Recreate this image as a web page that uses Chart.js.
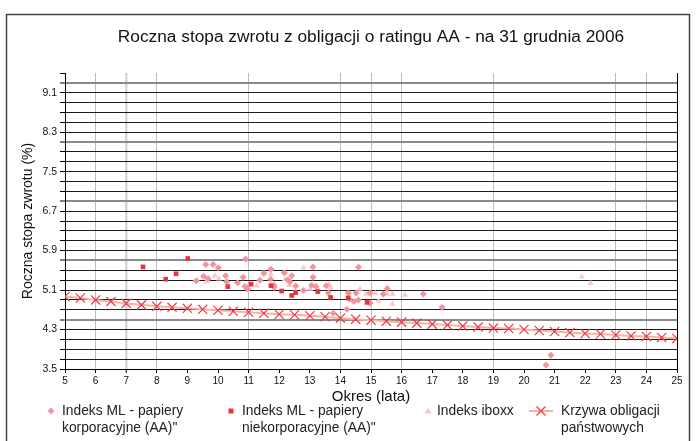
<!DOCTYPE html>
<html>
<head>
<meta charset="utf-8">
<script src="https://cdn.jsdelivr.net/npm/chart.js@4.4.1/dist/chart.umd.min.js"></script>
<style>
  html, body { margin: 0; padding: 0; background: #fff; }
  #wrap { width: 696px; height: 441px; position: relative; }
</style>
</head>
<body>
<div id="wrap"><canvas id="chart"></canvas></div>
<script>
/*********************************
 DATA
*********************************/
const TITLE = "Roczna stopa zwrotu z obligacji o ratingu AA - na 31 grudnia 2006";
const X_TITLE = "Okres (lata)";
const Y_TITLE = "Roczna stopa zwrotu (%)";

const SERIES_NAMES = [
  ["Indeks ML - papiery", "korporacyjne (AA)\""],
  ["Indeks ML - papiery", "niekorporacyjne (AA)\""],
  ["Indeks iboxx"],
  ["Krzywa obligacji", "państwowych"]
];

const Y_TICK_LABELS = ["3.5", "4.3", "5.1", "5.9", "6.7", "7.5", "8.3", "9.1"];

// Indeks ML - papiery korporacyjne (AA)
const CORP_TENOR = [9.29, 9.53, 9.60, 9.68, 9.84, 10.01, 10.25, 10.28, 10.64, 10.82, 10.90, 10.88, 10.97,
  11.37, 11.50, 11.73, 11.72, 11.83, 11.83, 12.17, 12.28, 12.41, 12.35, 12.54, 12.79, 13.10, 13.10, 13.06,
  13.20, 13.54, 13.61, 13.77, 14.21, 14.26, 14.29, 14.44, 14.51, 14.59, 14.59, 14.97, 14.97, 15.40, 15.53,
  16.71, 17.32, 20.72, 20.88];
const CORP_YIELD = [5.29, 5.38, 5.62, 5.33, 5.62, 5.55, 5.39, 5.27, 5.25, 5.36, 5.73, 5.17, 5.12,
  5.30, 5.44, 5.52, 5.32, 5.20, 5.15, 5.45, 5.31, 5.39, 5.27, 5.18, 5.09, 5.57, 5.36, 5.20,
  5.17, 5.19, 5.04, 4.63, 4.71, 5.04, 4.92, 4.87, 5.04, 4.90, 5.56, 5.04, 4.84, 5.02, 5.13,
  5.02, 4.75, 3.58, 3.78];

// Indeks ML - papiery niekorporacyjne (AA)
const NONCORP_TENOR = [7.55, 8.29, 8.63, 9.01, 10.32, 11.08, 11.73, 12.08, 12.41, 12.54, 13.26, 13.68, 14.25, 14.87];
const NONCORP_YIELD = [5.57, 5.32, 5.43, 5.74, 5.17, 5.22, 5.19, 5.08, 4.99, 5.05, 5.07, 4.95, 4.94, 4.85];

// Indeks iboxx
const IBOXX_TENOR = [9.62, 9.90, 10.03, 10.99, 11.26, 11.73, 12.19, 12.33, 12.52, 12.79, 13.01, 13.28, 13.51,
  13.63, 13.69, 14.64, 14.84, 15.15, 15.24, 15.53, 15.70, 15.70, 16.11, 21.89, 22.18];
const IBOXX_YIELD = [5.27, 5.39, 5.33, 5.20, 5.19, 5.42, 5.32, 5.20, 5.07, 5.55, 5.12, 5.08, 5.19,
  5.22, 5.15, 5.12, 5.02, 5.03, 4.88, 5.02, 5.02, 4.82, 5.00, 5.37, 5.24];

// Krzywa obligacji państwowych
const GOV_TENOR = [5, 5.5, 6, 6.5, 7, 7.5, 8, 8.5, 9, 9.5, 10, 10.5, 11, 11.5, 12, 12.5, 13, 13.5, 14, 14.5,
  15, 15.5, 16, 16.5, 17, 17.5, 18, 18.5, 19, 19.5, 20, 20.5, 21, 21.5, 22, 22.5, 23, 23.5, 24, 24.5, 25];
const GOV_YIELD = [4.97, 4.94, 4.90, 4.87, 4.83, 4.80, 4.77, 4.75, 4.73, 4.71, 4.69, 4.67, 4.65, 4.63, 4.61,
  4.60, 4.58, 4.56, 4.53, 4.51, 4.49, 4.47, 4.45, 4.43, 4.41, 4.39, 4.37, 4.35, 4.33, 4.32, 4.30, 4.28,
  4.26, 4.24, 4.22, 4.21, 4.19, 4.17, 4.16, 4.14, 4.12];

/*********************************
 UTILS
*********************************/
const FONT = '"Liberation Sans", Arial, Helvetica, sans-serif';

function points(xs, ys) {
  return xs.map((x, i) => ({ x: x, y: ys[i] }));
}

const MAJOR_Y_LINES = [4.5, 5.7, 6.9, 8.1, 9.3];
const X_GRID_LINES = [6, 7, 8, 11, 14, 15, 16, 19, 23, 24];

function near(v, list) {
  return list.some(a => Math.abs(a - v) < 1e-6);
}

/*********************************
 PLUGINS
*********************************/
const framePlugin = {
  id: "frame",
  beforeDraw(chart) {
    const ctx = chart.ctx;
    ctx.save();
    ctx.fillStyle = "#fff";
    ctx.fillRect(0, 0, chart.width, chart.height);
    ctx.strokeStyle = "#444";
    ctx.lineWidth = 1.5;
    ctx.strokeRect(6.5, 14.5, 683, 440);
    // title, centred over the plot
    ctx.fillStyle = "#111";
    ctx.font = "17.3px " + FONT;
    ctx.textAlign = "center";
    ctx.textBaseline = "middle";
    ctx.fillText(TITLE, (chart.chartArea.left + chart.chartArea.right) / 2, 37);
    ctx.restore();
  }
};

function drawMarker(ctx, kind, x, y) {
  ctx.beginPath();
  if (kind === "diamond") {
    ctx.fillStyle = "#f3939c";
    ctx.moveTo(x, y - 3.5); ctx.lineTo(x + 3.5, y); ctx.lineTo(x, y + 3.5); ctx.lineTo(x - 3.5, y);
    ctx.closePath(); ctx.fill();
  } else if (kind === "square") {
    ctx.fillStyle = "#e8333f";
    ctx.fillRect(x - 2.5, y - 2.5, 5, 5);
  } else if (kind === "triangle") {
    ctx.fillStyle = "#f9c7cc";
    ctx.moveTo(x, y - 3.5); ctx.lineTo(x + 3.5, y + 2.5); ctx.lineTo(x - 3.5, y + 2.5);
    ctx.closePath(); ctx.fill();
  } else {
    ctx.strokeStyle = "#f4b3a5";
    ctx.lineWidth = 2;
    ctx.moveTo(x - 12, y); ctx.lineTo(x + 12, y); ctx.stroke();
    ctx.beginPath();
    ctx.strokeStyle = "#ef3a4a";
    ctx.lineWidth = 1.2;
    ctx.moveTo(x - 4.5, y - 4.5); ctx.lineTo(x + 4.5, y + 4.5);
    ctx.moveTo(x + 4.5, y - 4.5); ctx.lineTo(x - 4.5, y + 4.5);
    ctx.stroke();
  }
}

const legendPlugin = {
  id: "bottomLegend",
  afterDraw(chart) {
    const ctx = chart.ctx;
    const kinds = ["diamond", "square", "triangle", "cross"];
    const markX = [51, 231, 428, 541];
    const textX = [62, 242, 437, 561];
    const rowY = [411, 428];
    ctx.save();
    chart.data.datasets.forEach((ds, i) => {
      drawMarker(ctx, kinds[i], markX[i], rowY[0]);
      ctx.fillStyle = "#222";
      ctx.font = "13.8px " + FONT;
      ctx.textBaseline = "middle";
      ctx.textAlign = "left";
      ds.labelLines.forEach((line, j) => ctx.fillText(line, textX[i], rowY[j]));
    });
    ctx.restore();
  }
};

/*********************************
 CHART
*********************************/
new Chart(document.getElementById("chart"), {
  type: "scatter",
  data: {
    datasets: [
      {
        label: SERIES_NAMES[0].join(" "),
        labelLines: SERIES_NAMES[0],
        data: points(CORP_TENOR, CORP_YIELD),
        pointStyle: "rectRot",
        pointRadius: 3.5,
        pointBackgroundColor: "#f3939c",
        pointBorderWidth: 0,
        order: 2
      },
      {
        label: SERIES_NAMES[1].join(" "),
        labelLines: SERIES_NAMES[1],
        data: points(NONCORP_TENOR, NONCORP_YIELD),
        pointStyle: "rect",
        pointRadius: 3.3,
        pointBackgroundColor: "#e8333f",
        pointBorderWidth: 0,
        order: 1
      },
      {
        label: SERIES_NAMES[2].join(" "),
        labelLines: SERIES_NAMES[2],
        data: points(IBOXX_TENOR, IBOXX_YIELD),
        pointStyle: "triangle",
        pointRadius: 3.5,
        pointBackgroundColor: "#f9c7cc",
        pointBorderWidth: 0,
        order: 3
      },
      {
        type: "line",
        label: SERIES_NAMES[3].join(" "),
        labelLines: SERIES_NAMES[3],
        data: points(GOV_TENOR, GOV_YIELD),
        showLine: true,
        borderColor: "#f4b3a5",
        borderWidth: 2,
        tension: 0,
        pointStyle: "crossRot",
        pointRadius: 6.5,
        pointBorderColor: "#ef3a4a",
        pointBorderWidth: 1.2,
        order: 0
      }
    ]
  },
  options: {
    responsive: true,
    maintainAspectRatio: false,
    animation: false,
    events: [],
    layout: { padding: { left: 10, right: 19, top: 73, bottom: 35 } },
    plugins: {
      legend: { display: false },
      tooltip: { enabled: false },
      title: { display: false }
    },
    scales: {
      x: {
        type: "linear",
        min: 5,
        max: 25,
        afterFit: s => { s.height = 37; },
        ticks: { stepSize: 1, color: "#111", font: { family: FONT, size: 10 }, padding: 2, maxRotation: 0 },
        grid: {
          color: c => {
            const v = c.tick.value;
            if (v === 25) return "#000";
            if (v === 7) return "#d6d6d6";
            return X_GRID_LINES.includes(v) ? "#bdbdbd" : "rgba(0,0,0,0)";
          },
          lineWidth: c => c.tick.value === 7 ? 2.5 : 1,
          tickColor: "#000",
          tickWidth: 1,
          tickLength: 4
        },
        border: { color: "#000", width: 1 },
        title: { display: true, text: X_TITLE, color: "#111", font: { family: FONT, size: 15 }, padding: 0 }
      },
      y: {
        min: 3.5,
        max: 9.5,
        afterFit: s => { s.width = 55; },
        ticks: {
          stepSize: 0.2,
          autoSkip: false,
          color: "#111",
          font: { family: FONT, size: 10.5 },
          padding: 3,
          callback: v => {
            const s = Number(v).toFixed(1);
            return Y_TICK_LABELS.includes(s) ? s : "";
          }
        },
        grid: {
          color: c => {
            const v = c.tick.value;
            if (Math.abs(v - 9.5) < 1e-6) return "rgba(0,0,0,0)";
            return near(v, MAJOR_Y_LINES) ? "#8a8a8a" : "#1a1a1a";
          },
          lineWidth: c => near(c.tick.value, MAJOR_Y_LINES) ? 2 : 1,
          tickColor: "#000",
          tickWidth: 1,
          tickLength: 5
        },
        border: { color: "#000", width: 1 },
        title: { display: true, text: Y_TITLE, color: "#111", font: { family: FONT, size: 14 }, padding: { top: 10 } }
      }
    }
  },
  plugins: [framePlugin, legendPlugin]
});
</script>
</body>
</html>
